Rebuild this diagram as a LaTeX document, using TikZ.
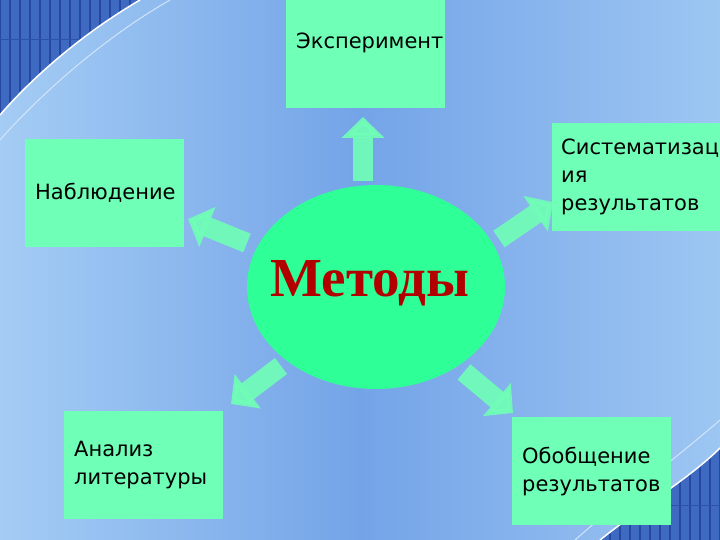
\documentclass[tikz,border=0pt]{standalone}
\usepackage{fontspec}
\setmainfont{DejaVu Sans}
\newfontfamily\titlefont{Liberation Serif}
\usepackage{tikz}
\usetikzlibrary{shapes.geometric}
\usetikzlibrary{arrows.meta}
\definecolor{mint}{RGB}{112,255,182}
\definecolor{bright}{RGB}{46,255,150}
\definecolor{bgpale}{RGB}{164,204,244}
\definecolor{bgmid}{RGB}{116,164,232}
\definecolor{deepblue}{RGB}{62,106,194}
\definecolor{gridblue}{RGB}{38,72,162}
\definecolor{wine}{RGB}{178,0,0}

\begin{document}
\begin{tikzpicture}[x=1pt,y=-1pt,
	box/.style={fill=mint,minimum width=159pt,minimum height=108pt,inner xsep=10pt,inner ysep=0pt,text width=139pt,align=left,anchor=north west,font=\fontsize{21}{28}\selectfont},
	bigarrow/.style={mint,opacity=0.9,line width=20pt,-{Triangle[length=21pt,width=42pt]}}]
	\useasboundingbox (0,0) rectangle (720,540);
	\clip (0,0) rectangle (720,540);
	
	%BACKGROUND
	\fill[left color=bgpale,right color=bgmid] (0,0) rectangle (360,540);
	\fill[left color=bgmid,right color=bgpale!85!bgmid] (360,0) rectangle (720,540);
	
	%CORNER TOP LEFT
	\begin{scope}
		\clip (0,0) -- (0,115) .. controls (30,80) and (80,35) .. (140,0) -- cycle;
		\fill[deepblue] (0,0) rectangle (200,200);
		\foreach \x in {0,10,...,200}{
			\draw[gridblue,line width=2.5pt] (\x,0) -- (\x,200);
		}
		\draw[gridblue!70!deepblue,line width=1pt] (0,40) -- (200,40);
	\end{scope}
	\draw[white,line width=1.5pt] (0,115) .. controls (30,80) and (80,35) .. (140,0);
	\draw[bgpale!50!white,line width=1pt] (0,140) .. controls (35,100) and (100,40) .. (170,0);
	
	%CORNER BOTTOM RIGHT
	\begin{scope}
		\clip (720,448) .. controls (690,478) and (640,508) .. (600,540) -- (720,540) -- cycle;
		\fill[deepblue] (560,400) rectangle (720,540);
		\foreach \x in {560,570,...,720}{
			\draw[gridblue,line width=2.5pt] (\x,400) -- (\x,540);
		}
		\draw[gridblue!70!deepblue,line width=1pt] (560,505) -- (720,505);
	\end{scope}
	\draw[white,line width=1.5pt] (720,448) .. controls (690,478) and (640,508) .. (600,540);
	\draw[bgpale!50!white,line width=1pt] (720,420) .. controls (680,455) and (620,500) .. (575,540);
	
	%BOXES
	\node[box,minimum height=130pt] (exper) at (286,-22) {Эксперимент};
	\node[box] (nabl) at (25,139) {Наблюдение};
	\node[box,minimum width=180pt,text width=162pt,inner xsep=9pt] (sist) at (552,123) {Систематизац\\ия\\результатов};
	\node[box] (anal) at (64,411) {Анализ\\литературы};
	\node[box] (obob) at (512,417) {Обобщение\\результатов};
	
	%ARROWS
	\coordinate (upT) at (363,181); \coordinate (upH) at (363,117);
	\coordinate (nwT) at (247,243); \coordinate (nwH) at (188,219);
	\coordinate (neT) at (499,239); \coordinate (neH) at (553,202);
	\coordinate (swT) at (281,366); \coordinate (swH) at (231,404);
	\coordinate (seT) at (464,372); \coordinate (seH) at (513,413);
	\draw[bigarrow] (upT) -- (upH);
	\draw[bigarrow] (nwT) -- (nwH);
	\draw[bigarrow] (neT) -- (neH);
	\draw[bigarrow] (swT) -- (swH);
	\draw[bigarrow] (seT) -- (seH);
	
	%CENTRE
	\node[ellipse,fill=bright,minimum width=258pt,minimum height=204pt,inner sep=0pt] (metody) at (376,287) {};
	\node[text=wine,font=\titlefont\bfseries\fontsize{55}{60}\selectfont] (metlabel) at (370,283) {Методы};
\end{tikzpicture}
\end{document}
